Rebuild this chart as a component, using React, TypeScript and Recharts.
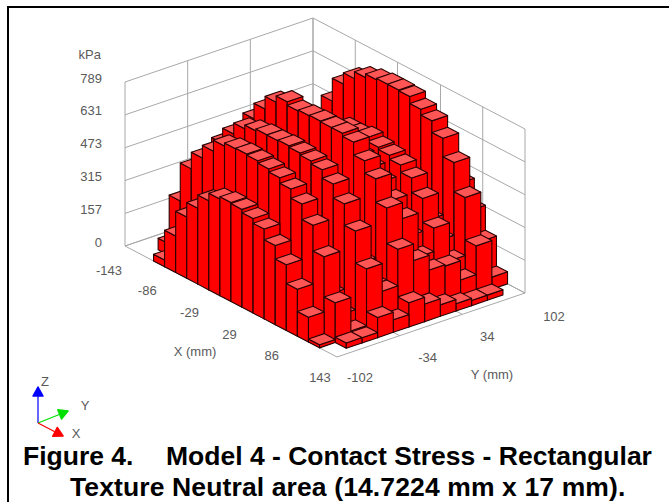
import { Scatter, ScatterChart, XAxis, YAxis } from 'recharts';

// stress table, one row per Y position, front (Y = -102) first, kPa
const row0 = [0, 0, 32, 176, 295, 365, 429, 465, 476, 471, 455, 432, 381, 316, 226, 119, 15, 0];
const row1 = [0, 56, 291, 473, 553, 614, 667, 681, 684, 679, 668, 653, 627, 583, 508, 385, 191, 26];
const row2 = [0, 0, 60, 150, 220, 260, 280, 300, 300, 290, 280, 270, 240, 200, 150, 80, 30, 25];
const row3 = [0, 90, 330, 545, 617, 670, 688, 697, 696, 700, 693, 683, 668, 628, 560, 457, 303, 97];
const row4 = [0, 0, 120, 280, 350, 400, 420, 440, 440, 430, 420, 400, 360, 320, 250, 170, 170, 60];
const row5 = [0, 0, 380, 611, 686, 747, 777, 760, 765, 768, 765, 765, 750, 688, 629, 517, 346, 117];
const row6 = [0, 0, 200, 450, 550, 600, 640, 650, 650, 650, 640, 630, 600, 560, 500, 440, 266, 85];
const row7 = [0, 0, 100, 300, 400, 450, 470, 480, 480, 470, 460, 440, 410, 360, 300, 230, 195, 55];
const row8 = [0, 0, 250, 450, 500, 540, 560, 600, 600, 612, 593, 582, 563, 528, 458, 343, 188, 35];
const row9 = [0, 0, 100, 250, 330, 380, 400, 420, 420, 410, 400, 380, 350, 300, 230, 160, 96, 25];
const row10 = [0, 0, 0, 568, 678, 732, 765, 782, 789, 789, 785, 752, 724, 668, 579, 439, 234, 25];
const row11 = [0, 0, 0, 200, 300, 400, 450, 480, 500, 500, 500, 480, 460, 424, 322, 202, 58, 0];
const rows = [row0, row1, row2, row3, row4, row5, row6, row7, row8, row9, row10, row11];

const xTicks = [-143, -86, -29, 29, 86, 143];
const yTicks = [-102, -34, 34, 102];
const zTicks = [0, 157, 315, 473, 631, 789];

const CELL_X = 14.93;
const CELL_Y = 17;
const X_MIN = -143;
const X_MAX = 143;
const Y_MIN = -102;
const Y_MAX = 102;
const Z_MAX = 789;

// oblique projection of the plot box onto the page
const project = (x: number, y: number, z: number) => ({
  sx: 125 + ((x - X_MIN) / 286) * 212 + ((y - Y_MIN) / 204) * 188,
  sy: 246 + ((x - X_MIN) / 286) * 111 - ((y - Y_MIN) / 204) * 64 - (z / Z_MAX) * 164,
});

const offset = (x: number, y: number, z: number) => {
  const a = project(0, 0, 0);
  const b = project(x, y, z);
  return { dx: b.sx - a.sx, dy: b.sy - a.sy };
};

// back to front so nearer bars paint over
const cells: { sx: number; sy: number; value: number }[] = [];
for (let j = rows.length - 1; j >= 0; j--) {
  rows[j].forEach((value, i) => {
    if (value <= 0) return;
    const x = (i - 8.5) * CELL_X;
    const y = Y_MIN + (j + 0.5) * CELL_Y;
    cells.push({ ...project(x, y, 0), value });
  });
}

const path = (pts: number[][]) => 'M' + pts.map((p) => p.join(',')).join('L') + 'Z';

const Bar3D = (props: any) => {
  const { cx, cy, payload } = props;
  const hx = offset(CELL_X / 2, 0, 0);
  const hy = offset(0, CELL_Y / 2, 0);
  const h = offset(0, 0, payload.value).dy;
  const at = (a: number, b: number, up: number) => [
    cx + a * hx.dx + b * hy.dx,
    cy + a * hx.dy + b * hy.dy + up,
  ];
  return (
    <g stroke="#2a0000" strokeWidth={1.1} strokeLinejoin="round">
      <path d={path([at(-1, -1, 0), at(1, -1, 0), at(1, -1, h), at(-1, -1, h)])} fill="#ff0000" />
      <path d={path([at(1, -1, 0), at(1, 1, 0), at(1, 1, h), at(1, -1, h)])} fill="#ff0000" />
      <path d={path([at(-1, -1, h), at(1, -1, h), at(1, 1, h), at(-1, 1, h)])} fill="#ff5555" />
    </g>
  );
};

// box grid lines
const gridLines: { sx: number; sy: number }[][] = [];
zTicks.forEach((z) => {
  gridLines.push([project(X_MIN, Y_MIN, z), project(X_MIN, Y_MAX, z), project(X_MAX, Y_MAX, z)]);
});
yTicks.forEach((y) => {
  gridLines.push([project(X_MIN, y, 0), project(X_MIN, y, Z_MAX)]);
  gridLines.push([project(X_MIN, y, 0), project(X_MAX, y, 0)]);
});
xTicks.forEach((x) => {
  gridLines.push([project(x, Y_MAX, 0), project(x, Y_MAX, Z_MAX)]);
  gridLines.push([project(x, Y_MIN, 0), project(x, Y_MAX, 0)]);
});

// tick label nudges off the box edge
const xNudge = [[-16, 24], [-20, 22], [-20, 22], [-23, 22], [-23, 21], [-17, 20]];
const yNudge = [[23, 20], [28, 22], [25, 22], [29, 23]];

const labels = [
  ...zTicks.map((z) => {
    const p = project(X_MIN, Y_MIN, z);
    return { sx: p.sx - 23, sy: p.sy - 4, text: String(z), anchor: 'end' };
  }),
  { sx: 101, sy: 54, text: 'kPa', anchor: 'end' },
  ...xTicks.map((x, k) => {
    const p = project(x, Y_MIN, 0);
    return { sx: p.sx + xNudge[k][0], sy: p.sy + xNudge[k][1], text: String(x), anchor: 'middle' };
  }),
  ...yTicks.map((y, k) => {
    const p = project(X_MAX, y, 0);
    return { sx: p.sx + yNudge[k][0], sy: p.sy + yNudge[k][1], text: String(y), anchor: 'middle' };
  }),
  { sx: 195, sy: 351, text: 'X (mm)', anchor: 'middle' },
  { sx: 492, sy: 374, text: 'Y (mm)', anchor: 'middle' },
  { sx: 45, sy: 381, text: 'Z', anchor: 'middle' },
  { sx: 85, sy: 405, text: 'Y', anchor: 'middle' },
  { sx: 76, sy: 433, text: 'X', anchor: 'middle' },
];

const Label = (props: any) => (
  <text
    x={props.cx}
    y={props.cy}
    textAnchor={props.payload.anchor}
    dominantBaseline="central"
    fontFamily="Liberation Sans"
    fontSize={13}
    fill="#5a5a5a"
  >
    {props.payload.text}
  </text>
);

// orientation triad, bottom left
const TRIAD_X = 38;
const TRIAD_Y = 423;
const triad = [
  { sx: 38, sy: 387, color: '#0000ff' },
  { sx: 68, sy: 411, color: '#00e000' },
  { sx: 63, sy: 436, color: '#ff0000' },
];

const TriadArm = (props: any) => {
  const { cx, cy, payload } = props;
  const len = Math.hypot(cx - TRIAD_X, cy - TRIAD_Y);
  const ux = (cx - TRIAD_X) / len;
  const uy = (cy - TRIAD_Y) / len;
  const head = [
    [cx, cy],
    [cx - ux * 9 - uy * 5, cy - uy * 9 + ux * 5],
    [cx - ux * 9 + uy * 5, cy - uy * 9 - ux * 5],
  ];
  return (
    <g>
      <line x1={TRIAD_X} y1={TRIAD_Y} x2={cx} y2={cy} stroke={payload.color} strokeWidth={1.2} />
      <path d={path(head)} fill={payload.color} stroke={payload.color} strokeWidth={1.5} strokeLinejoin="round" />
    </g>
  );
};

const noMark = () => <g />;

const titleStyle = {
  position: 'absolute' as const,
  fontFamily: 'Liberation Sans',
  fontWeight: 700,
  fontSize: 26.5,
  whiteSpace: 'pre' as const,
  color: '#000',
};

export default function App() {
  return (
    <div style={{ position: 'absolute', left: 0, top: 0, width: 669, height: 502, background: '#fff', overflow: 'hidden' }}>
      <ScatterChart width={669} height={502} margin={{ top: 0, right: 0, bottom: 0, left: 0 }}>
        <XAxis type="number" dataKey="sx" domain={[0, 669]} hide />
        <YAxis type="number" dataKey="sy" domain={[0, 502]} reversed hide />
        {gridLines.map((line, k) => (
          <Scatter
            key={k}
            data={line}
            line={{ stroke: '#a8a8a8', strokeWidth: 1 }}
            shape={noMark}
            isAnimationActive={false}
          />
        ))}
        <Scatter data={cells} shape={Bar3D} isAnimationActive={false} />
        <Scatter data={labels} shape={Label} isAnimationActive={false} />
        <Scatter data={triad} shape={TriadArm} isAnimationActive={false} />
      </ScatterChart>
      <div style={{ position: 'absolute', left: 7, top: 6, width: 660, height: 496, borderTop: '2px solid #000', borderLeft: '2px solid #000', borderRight: '1px solid #000' }} />
      <div style={{ ...titleStyle, left: 23, top: 441 }}>Figure 4.</div>
      <div style={{ ...titleStyle, left: 166, top: 441 }}>Model 4 - Contact Stress - Rectangular</div>
      <div style={{ ...titleStyle, left: 70, top: 472, letterSpacing: 0.12 }}>Texture Neutral area (14.7224 mm x 17 mm).</div>
    </div>
  );
}
